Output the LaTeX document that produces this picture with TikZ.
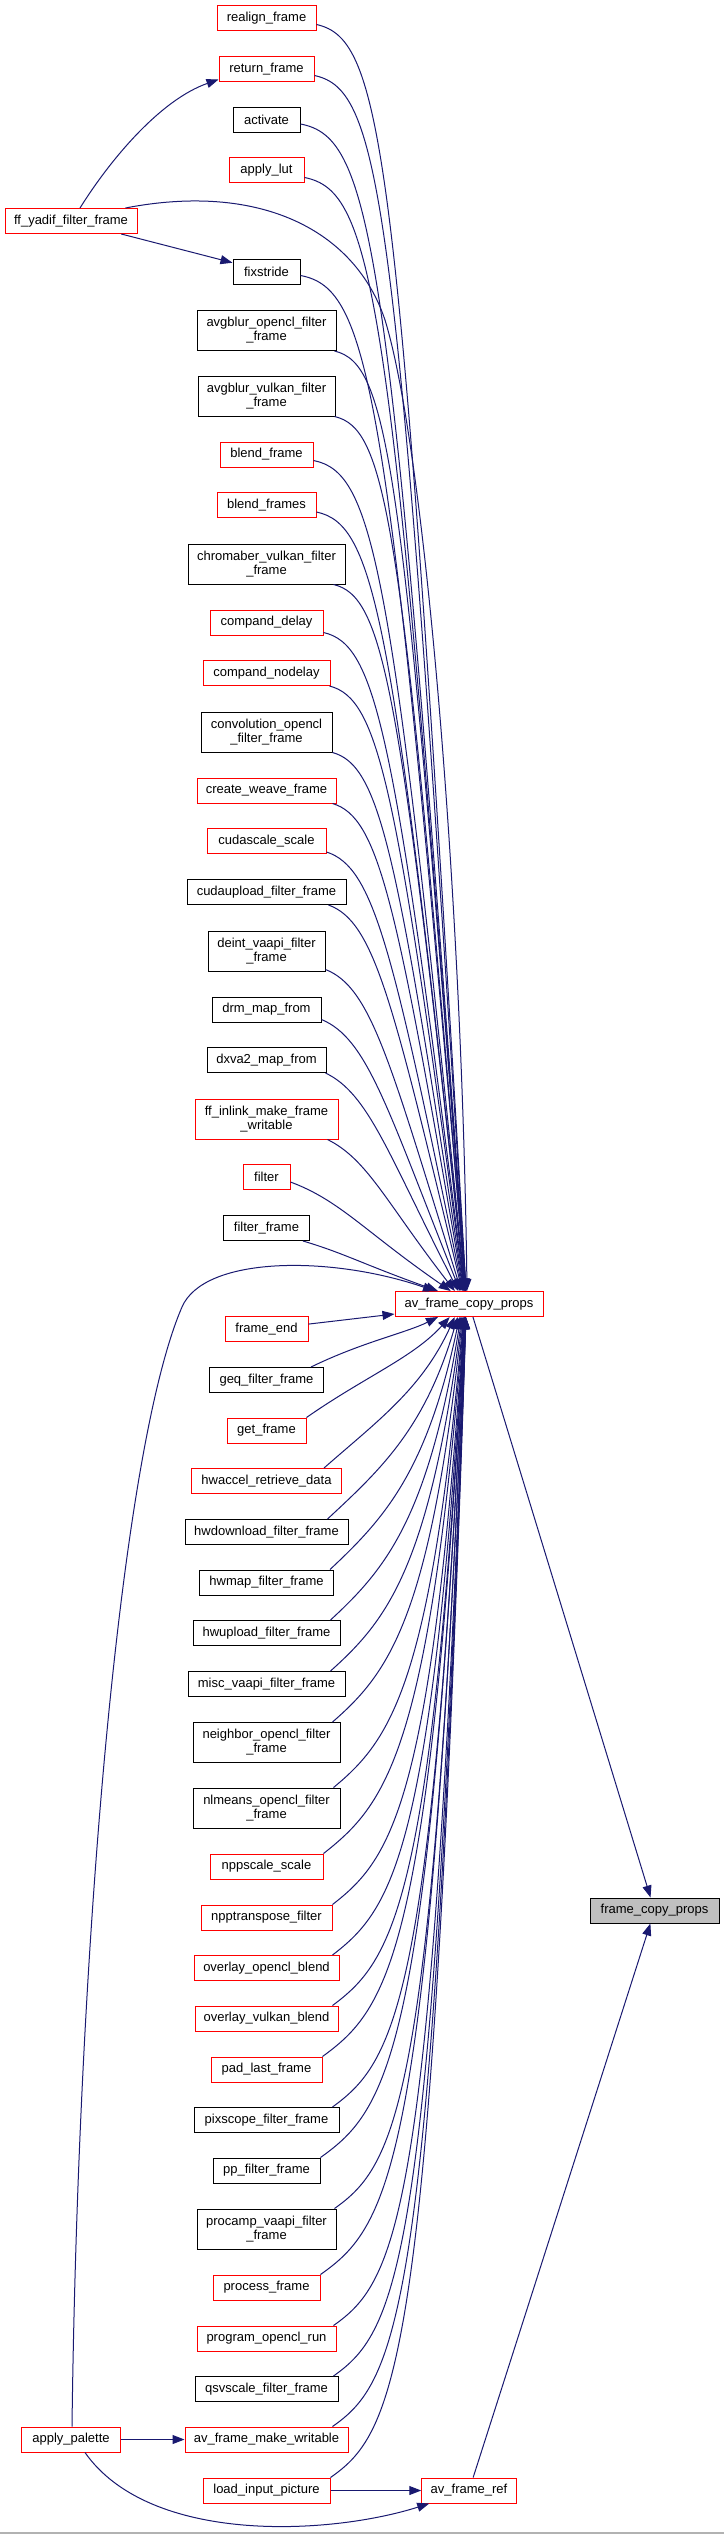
\documentclass[tikz,border=0pt]{standalone}
\usepackage{fontspec}
\setmainfont{Liberation Sans}
\usetikzlibrary{arrows.meta,calc}
\newcommand\nodefont{\fontsize{13}{14}\selectfont}
\definecolor{edgeblue}{HTML}{191970}
\definecolor{nodered}{HTML}{FF0000}
\definecolor{fcpgray}{HTML}{BFBFBF}
\begin{document}
\begin{tikzpicture}[x=1pt,y=-1pt,
 box/.style={draw=black, fill=white, line width=1pt, inner sep=0pt, minimum height=25pt, font=\nodefont, align=center},
 rbox/.style={box, draw=nodered},
 tall/.style={minimum height=40pt},
 link/.style={draw=edgeblue, line width=1pt, -{Triangle[length=12pt,width=9pt]}},
]
\useasboundingbox (0,0) rectangle (724,2534);
\fill[white] (0,0) rectangle (724,2534);
\draw[gray!60, line width=1.5pt] (0,2533) -- (724,2533);

\node[rbox, minimum width=99pt] (realign) at (266.5,18.5) {realign\_frame};
\node[rbox, minimum width=95pt] (return) at (266.5,69.5) {return\_frame};
\node[box, minimum width=67pt] (activate) at (266.5,120) {activate};
\node[rbox, minimum width=75pt] (applylut) at (266.5,170.5) {apply\_lut};
\node[rbox, minimum width=132pt] (yadif) at (71,221) {ff\_yadif\_filter\_frame};
\node[box, minimum width=67pt] (fixstride) at (266.5,271.5) {fixstride};
\node[box, tall, minimum width=139pt] (avgblurocl) at (266.5,330.5) {avgblur\_opencl\_filter\\\_frame};
\node[box, tall, minimum width=137pt] (avgblurvk) at (266.5,396) {avgblur\_vulkan\_filter\\\_frame};
\node[rbox, minimum width=93pt] (blendframe) at (266.5,454.5) {blend\_frame};
\node[rbox, minimum width=99pt] (blendframes) at (266.5,505) {blend\_frames};
\node[box, tall, minimum width=157pt] (chromaber) at (266.5,564) {chromaber\_vulkan\_filter\\\_frame};
\node[rbox, minimum width=113pt] (companddelay) at (266.5,622.5) {compand\_delay};
\node[rbox, minimum width=127pt] (compandnodelay) at (266.5,673) {compand\_nodelay};
\node[box, tall, minimum width=131pt] (convolution) at (266.5,732) {convolution\_opencl\\\_filter\_frame};
\node[rbox, minimum width=139pt] (createweave) at (266.5,790.5) {create\_weave\_frame};
\node[rbox, minimum width=119pt] (cudascale) at (266.5,841) {cudascale\_scale};
\node[box, minimum width=159pt] (cudaupload) at (266.5,892) {cudaupload\_filter\_frame};
\node[box, tall, minimum width=117pt] (deint) at (266.5,951) {deint\_vaapi\_filter\\\_frame};
\node[box, minimum width=109pt] (drm) at (266.5,1009.5) {drm\_map\_from};
\node[box, minimum width=119pt] (dxva2) at (266.5,1060) {dxva2\_map\_from};
\node[rbox, tall, minimum width=143pt] (inlink) at (266.5,1119) {ff\_inlink\_make\_frame\\\_writable};
\node[rbox, minimum width=47pt] (filter) at (266.5,1177) {filter};
\node[box, minimum width=86pt] (filterframe) at (266.5,1228) {filter\_frame};
\node[rbox, minimum width=148pt] (acp) at (469,1304) {av\_frame\_copy\_props};
\node[rbox, minimum width=83pt] (frameend) at (266.5,1329) {frame\_end};
\node[box, minimum width=114pt] (geq) at (266.5,1380) {geq\_filter\_frame};
\node[rbox, minimum width=79pt] (getframe) at (266.5,1430.5) {get\_frame};
\node[rbox, minimum width=150pt] (hwaccel) at (266.5,1481) {hwaccel\_retrieve\_data};
\node[box, minimum width=163pt] (hwdownload) at (266.5,1532) {hwdownload\_filter\_frame};
\node[box, minimum width=134pt] (hwmap) at (266.5,1582.5) {hwmap\_filter\_frame};
\node[box, minimum width=147pt] (hwupload) at (266.5,1633) {hwupload\_filter\_frame};
\node[box, minimum width=157pt] (misc) at (266.5,1684) {misc\_vaapi\_filter\_frame};
\node[box, tall, minimum width=147pt] (neighbor) at (266.5,1742.5) {neighbor\_opencl\_filter\\\_frame};
\node[box, tall, minimum width=147pt] (nlmeans) at (266.5,1808) {nlmeans\_opencl\_filter\\\_frame};
\node[rbox, minimum width=113pt] (nppscale) at (266.5,1866.5) {nppscale\_scale};
\node[rbox, minimum width=131pt] (npptranspose) at (266.5,1917.5) {npptranspose\_filter};
\node[rbox, minimum width=145pt] (overlayocl) at (266.5,1968) {overlay\_opencl\_blend};
\node[rbox, minimum width=143pt] (overlayvk) at (266.5,2018.5) {overlay\_vulkan\_blend};
\node[rbox, minimum width=111pt] (padlast) at (266.5,2069.5) {pad\_last\_frame};
\node[box, minimum width=145pt] (pixscope) at (266.5,2120) {pixscope\_filter\_frame};
\node[box, minimum width=107pt] (pp) at (266.5,2170.5) {pp\_filter\_frame};
\node[box, tall, minimum width=139pt] (procamp) at (266.5,2229) {procamp\_vaapi\_filter\\\_frame};
\node[rbox, minimum width=107pt] (processframe) at (266.5,2287.5) {process\_frame};
\node[rbox, minimum width=139pt] (programocl) at (266.5,2338.5) {program\_opencl\_run};
\node[box, minimum width=143pt] (qsvscale) at (266.5,2389) {qsvscale\_filter\_frame};
\node[rbox, minimum width=98.5pt] (applypal) at (71,2439.5) {apply\_palette};
\node[rbox, minimum width=163pt] (afmw) at (266.5,2439.5) {av\_frame\_make\_writable};
\node[rbox, minimum width=127pt] (loadinput) at (266.5,2490.5) {load\_input\_picture};
\node[rbox, minimum width=94.5pt] (ref) at (469,2490.5) {av\_frame\_ref};
\node[box, fill=fcpgray, minimum width=129pt] (fcp) at (654.5,1910.5) {frame\_copy\_props};

% callers above av_frame_copy_props
\foreach \n/\xr/\yb/\dx/\dy in {realign/316/31/0/7, return/314/82/0/7, activate/300/132/0/9,
  applylut/304/183/0/6, fixstride/300/284/0/9, avgblurocl/336/351/-2/0, avgblurvk/335/416/-1/0,
  blendframe/313/467/0/7, blendframes/316/518/0/6, chromaber/345/584/-12/0,
  companddelay/323/635/0/3, compandnodelay/330/686/-1/0, convolution/332/752/0/0,
  createweave/336/803/-4/0, cudascale/326/854/0/2, cudaupload/346/905/-18/0,
  deint/325/971/0/2, drm/321/1022/0/3, dxva2/326/1073/-1/0, inlink/338/1139/-11/0,
  filter/290/1190/0/8, filterframe/309/1241/-7/0}{
  \pgfmathsetmacro\cXs{\xr+\dx}
  \pgfmathsetmacro\cYs{\yb-\dy}
  \pgfmathsetmacro\cD{1291-\cYs}
  \pgfmathsetmacro\cEx{468-2400/(\cD+30)}
  \pgfmathsetmacro\cW{\cEx-\cXs}
  \pgfmathsetmacro\cR{\cD/1267}
  \pgfmathsetmacro\cQ{exp(-\cD/150)}
  \pgfmathsetmacro\cA{0.3+0.15*\cR}
  \pgfmathsetmacro\cB{0.45+0.1*\cR}
  \pgfmathsetmacro\cEo{0.09+0.5*exp(-\cD/300)}
  \pgfmathsetmacro\cE{\cQ*\cB+(1-\cQ)*\cEo}
  \pgfmathsetmacro\pax{\cXs+\cA*\cW}
  \pgfmathsetmacro\pay{\cYs+(0.01*\cD+3)*(1-\cQ)+\cA*\cD*\cQ}
  \pgfmathsetmacro\pbx{\cXs+\cB*\cW}
  \pgfmathsetmacro\pby{\cYs+\cE*\cD}
  \pgfmathsetmacro\sx{\cEx-469}
  \draw[link] ([xshift=\dx pt,yshift=\dy pt]\n.south east) .. controls (\pax,\pay) and (\pbx,\pby) .. ([xshift=\sx pt]acp.north);
}

% callers below av_frame_copy_props
\foreach \n/\xr/\yt/\dx in {geq/323/1367/-13, getframe/306/1418/0, hwaccel/341/1468/-18,
  hwdownload/348/1519/-21, hwmap/333/1570/-4, hwupload/340/1620/-10, misc/345/1671/-15,
  neighbor/340/1722/-8, nlmeans/340/1788/-7, nppscale/323/1854/0, npptranspose/332/1905/0,
  overlayocl/339/1955/-7, overlayvk/338/2006/-6, padlast/322/2057/0, pixscope/339/2107/-7,
  pp/320/2158/0, procamp/336/2209/-2, processframe/320/2275/0, programocl/336/2326/-3,
  qsvscale/338/2376/-5, afmw/348/2427/-16, loadinput/330/2478/0}{
  \pgfmathsetmacro\cXs{\xr+\dx}
  \pgfmathsetmacro\cYs{\yt}
  \pgfmathsetmacro\cD{\cYs-1317}
  \pgfmathsetmacro\cEx{468-2400/(\cD+30)}
  \pgfmathsetmacro\cW{\cEx-\cXs}
  \pgfmathsetmacro\cR{\cD/1173}
  \pgfmathsetmacro\cQ{exp(-\cD/150)}
  \pgfmathsetmacro\cA{0.4+0.1*\cR}
  \pgfmathsetmacro\cB{0.75}
  \pgfmathsetmacro\cEo{0.09+0.5*exp(-\cD/300)}
  \pgfmathsetmacro\cE{\cQ*\cB+(1-\cQ)*\cEo}
  \pgfmathsetmacro\pax{\cXs+\cA*\cW}
  \pgfmathsetmacro\pay{\cYs-(0.7*\cA*\cW)*(1-\cQ)-\cA*\cD*\cQ}
  \pgfmathsetmacro\pbx{\cXs+\cB*\cW}
  \pgfmathsetmacro\pby{\cYs-\cE*\cD}
  \pgfmathsetmacro\sx{\cEx-469}
  \draw[link] ([xshift=\dx pt]\n.north east) .. controls (\pax,\pay) and (\pbx,\pby) .. ([xshift=\sx pt]acp.south);
}

\draw[link] (frameend) -- ([yshift=3pt]acp.south west);

% ff_yadif_filter_frame
\draw[link] ([xshift=9pt]yadif.north) .. controls (110,160) and (160,100) .. ([yshift=3pt]return.south west);
\draw[link] (yadif) -- (fixstride);
\draw[link] ([xshift=-12pt]yadif.north east) .. controls (260,182) and (355,230) .. (385,320)
  .. controls (425,450) and (462,900) .. ([xshift=-2pt]acp.north);

% apply_palette
\draw[link] (applypal) -- (afmw);
\draw[link] ([xshift=14pt]applypal.south) .. controls (150,2545) and (330,2535) .. ([xshift=8pt]ref.south west);
\draw[link] ([xshift=1pt]applypal.north) .. controls (78,1950) and (120,1450) .. (182,1307)
  .. controls (204,1256) and (330,1255) .. ([xshift=-34pt]acp.north);

\draw[link] (loadinput) -- (ref);
\draw[link] (acp) -- (fcp);
\draw[link] (ref) -- (fcp);
\end{tikzpicture}
\end{document}
